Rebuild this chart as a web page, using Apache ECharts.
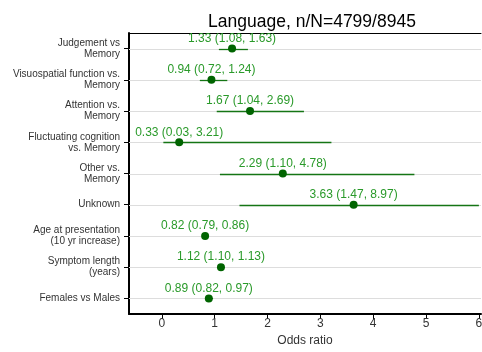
<!DOCTYPE html>
<html>
<head>
<meta charset="utf-8">
<script src="https://cdn.jsdelivr.net/npm/echarts@6/dist/echarts.min.js"></script>
<style>html,body{margin:0;padding:0;background:#fff}#chart{width:482px;height:352px}</style>
</head>
<body>
<div id="chart"></div>
<script>
// Odds ratios with 95% confidence intervals, one row per comparison
const categories = [
  'Judgement vs\nMemory',
  'Visuospatial function vs.\nMemory',
  'Attention vs.\nMemory',
  'Fluctuating cognition\nvs. Memory',
  'Other vs.\nMemory',
  'Unknown',
  'Age at presentation\n(10 yr increase)',
  'Symptom length\n(years)',
  'Females vs Males'
];
const oddsRatio = [1.33, 0.94, 1.67, 0.33, 2.29, 3.63, 0.82, 1.12, 0.89];
const ciLower   = [1.08, 0.72, 1.04, 0.03, 1.10, 1.47, 0.79, 1.10, 0.82];
const ciUpper   = [1.63, 1.24, 2.69, 3.21, 4.78, 8.97, 0.86, 1.13, 0.97];
const xTicks = [0, 1, 2, 3, 4, 5, 6];

const X_MIN = -0.62, X_MAX = 6.04;
const fmt = v => v.toFixed(2);
const crisp = y => Math.round(y) + 0.5;

const chart = echarts.init(document.getElementById('chart'));
chart.setOption({
  animation: false,
  title: {
    text: 'Language, n/N=4799/8945',
    left: 307, top: 8, textAlign: 'center',
    textStyle: { fontFamily: 'Liberation Sans', fontSize: 17.5, fontWeight: 'normal', color: '#000' }
  },
  grid: { left: 129, right: 1, top: 33, bottom: 38, outerBoundsMode: 'none', containLabel: false },
  xAxis: [{
    type: 'value', min: X_MIN, max: X_MAX,
    name: 'Odds ratio', nameLocation: 'middle', nameGap: 17,
    nameTextStyle: { fontFamily: 'Liberation Sans', fontSize: 12, color: '#333' },
    axisLine: { show: true, lineStyle: { color: '#000', width: 2 } },
    axisTick: { show: true, length: 5, lineStyle: { color: '#000' }, customValues: xTicks },
    axisLabel: { fontFamily: 'Liberation Sans', fontSize: 12, color: '#333', margin: 4, customValues: xTicks },
    splitLine: { show: false }
  }, {
    type: 'value', position: 'top', min: X_MIN, max: X_MAX,
    axisLine: { show: true, onZero: false, lineStyle: { color: '#000', width: 1 } },
    axisTick: { show: false }, axisLabel: { show: false }, splitLine: { show: false }
  }],
  yAxis: {
    type: 'category', data: categories, inverse: true,
    axisLine: { show: true, onZero: false, lineStyle: { color: '#000', width: 2 } },
    axisTick: { show: true, alignWithLabel: true, length: 5, lineStyle: { color: '#000' } },
    axisLabel: { fontFamily: 'Liberation Sans', fontSize: 10, color: '#333', margin: 9, lineHeight: 11 },
    splitLine: { show: false }
  },
  series: [{
    // light reference line across each row
    type: 'custom', silent: true, z: 1,
    data: categories.map((c, i) => [i]),
    renderItem: (params, api) => {
      const i = api.value(0);
      const a = api.coord([X_MIN, i]);
      const b = api.coord([X_MAX, i]);
      const y = crisp(a[1]);
      return { type: 'line', shape: { x1: a[0], y1: y, x2: b[0], y2: y },
               style: { stroke: '#dddddd', lineWidth: 1 } };
    }
  }, {
    // confidence interval whiskers, clipped to the visible range
    type: 'custom', silent: true, z: 2,
    data: ciLower.map((lo, i) => [i, lo, ciUpper[i]]),
    renderItem: (params, api) => {
      const i = api.value(0);
      const lo = Math.max(api.value(1), X_MIN);
      const hi = Math.min(api.value(2), X_MAX - 0.04);
      const a = api.coord([lo, i]);
      const b = api.coord([hi, i]);
      const y = crisp(a[1]);
      return { type: 'line', shape: { x1: a[0], y1: y, x2: b[0], y2: y },
               style: { stroke: '#157515', lineWidth: 1.3 } };
    }
  }, {
    // point estimates with their value labels
    type: 'scatter', z: 3,
    symbol: 'circle', symbolSize: 8,
    itemStyle: { color: '#006400', opacity: 1 },
    data: oddsRatio.map((v, i) => [v, i, ciLower[i], ciUpper[i]]),
    label: {
      show: true, position: 'top', distance: 0,
      fontFamily: 'Liberation Sans', fontSize: 12, color: '#2a9a2a',
      formatter: p => `${fmt(p.value[0])} (${fmt(p.value[2])}, ${fmt(p.value[3])})`
    }
  }]
});
</script>
</body>
</html>
